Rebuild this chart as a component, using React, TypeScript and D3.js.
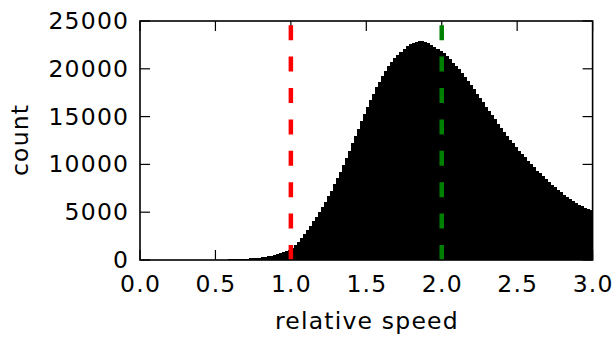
import React from "react";
import * as d3 from "d3";

// Histogram of relative speed: 150 bins of width 0.02 from 0.0 to 3.0
const binWidth = 0.02;
const counts: number[] = [
  0, 0, 0, 0, 0, 0, 0, 0, 0, 0,
  0, 0, 0, 0, 0, 0, 0, 0, 0, 0,
  0, 0, 0, 0, 0, 20, 30, 35, 45, 55,
  65, 75, 90, 105, 120, 140, 160, 190, 220, 260,
  300, 350, 400, 460, 530, 610, 700, 800, 920, 1060,
  1300, 1550, 1900, 2350, 2750, 3150, 3600, 4050, 4550, 5050,
  5550, 6100, 6650, 7250, 7900, 8550, 9250, 9950, 10700, 11450,
  12250, 13000, 13750, 14500, 15250, 16000, 16700, 17400, 18050, 18650,
  19200, 19750, 20250, 20700, 21100, 21450, 21800, 22100, 22350, 22550,
  22700, 22800, 22900, 22950, 22850, 22700, 22500, 22300, 22100, 21900,
  21650, 21350, 21000, 20650, 20300, 19950, 19550, 19150, 18750, 18300,
  17850, 17400, 16950, 16500, 16050, 15600, 15150, 14700, 14250, 13800,
  13400, 13000, 12600, 12200, 11800, 11450, 11100, 10750, 10400, 10050,
  9700, 9350, 9050, 8750, 8450, 8150, 7850, 7600, 7350, 7100,
  6850, 6600, 6400, 6200, 6000, 5800, 5600, 5450, 5300, 5200,
];
const xTicks: number[] = [0, 0.5, 1.0, 1.5, 2.0, 2.5, 3.0];
const xTickLabels: string[] = ["0.0", "0.5", "1.0", "1.5", "2.0", "2.5", "3.0"];
const yTicks: number[] = [0, 5000, 10000, 15000, 20000, 25000];
const yTickLabels: string[] = ["0", "5000", "10000", "15000", "20000", "25000"];
const refLines = [
  { value: 1.0, color: "#ff0000" },
  { value: 2.0, color: "#008000" },
];
const xLabel = "relative speed";
const yLabel = "count";

const W = 613;
const H = 339;
const left = 140;
const right = 592.6;
const top = 21;
const bottom = 260;
const font = "'DejaVu Sans', sans-serif";
const fontSize = 23.5;
const ls = 1.2;
const tickLen = 10;

export default function App() {
  const x = d3.scaleLinear().domain([0, 3]).range([left, right]);
  const y = d3.scaleLinear().domain([0, 25000]).range([bottom, top]);
  const bw = x(binWidth) - x(0);

  return (
    <svg
      width={W}
      height={H}
      style={{ position: "absolute", left: 0, top: 0, background: "#fff" }}
      fontFamily={font}
    >
      <defs>
        <clipPath id="plot">
          <rect x={left} y={top} width={right - left} height={bottom - top} />
        </clipPath>
      </defs>
      <g clipPath="url(#plot)" shapeRendering="crispEdges">
        {counts.map((c, i) =>
          c > 0 ? (
            <rect
              key={i}
              x={x(i * binWidth)}
              y={y(c)}
              width={bw + 0.8}
              height={bottom - y(c)}
              fill="#000"
            />
          ) : null
        )}
      </g>
      {/* ticks (inward, all four sides) */}
      <g stroke="#000" strokeWidth={1.2}>
        {xTicks.map((t, i) => (
          <g key={"xt" + i}>
            <line x1={x(t)} x2={x(t)} y1={bottom} y2={bottom - tickLen} />
            <line x1={x(t)} x2={x(t)} y1={top} y2={top + tickLen} />
          </g>
        ))}
        {yTicks.map((t, i) => (
          <g key={"yt" + i}>
            <line x1={left} x2={left + tickLen} y1={y(t)} y2={y(t)} />
            <line x1={right} x2={right - tickLen} y1={y(t)} y2={y(t)} />
          </g>
        ))}
      </g>
      {/* reference lines */}
      {refLines.map((r, i) => (
        <line
          key={"ref" + i}
          x1={x(r.value)}
          x2={x(r.value)}
          y1={bottom}
          y2={top}
          stroke={r.color}
          strokeWidth={4.5}
          strokeDasharray="15 16.4"
        />
      ))}
      {/* frame */}
      <rect
        x={left}
        y={top}
        width={right - left}
        height={bottom - top}
        fill="none"
        stroke="#000"
        strokeWidth={1.6}
      />
      {/* tick labels */}
      <g fontSize={fontSize} fill="#000" letterSpacing={ls}>
        {xTicks.map((t, i) => (
          <text key={"xl" + i} x={x(t) + ls / 2} y={292} textAnchor="middle">
            {xTickLabels[i]}
          </text>
        ))}
        {yTicks.map((t, i) => (
          <text key={"yl" + i} x={128 + ls} y={y(t) + 8} textAnchor="end">
            {yTickLabels[i]}
          </text>
        ))}
        <text x={(left + right) / 2 + ls / 2} y={328.7} textAnchor="middle">
          {xLabel}
        </text>
        <text
          transform={`translate(28,${(top + bottom) / 2 - ls / 2}) rotate(-90)`}
          textAnchor="middle"
        >
          {yLabel}
        </text>
      </g>
    </svg>
  );
}
